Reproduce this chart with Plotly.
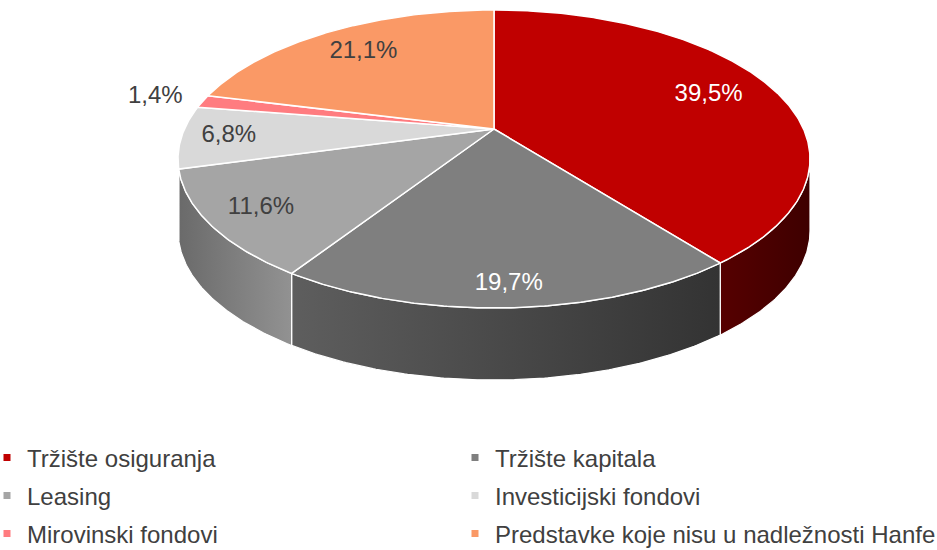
import numpy as np
import plotly.graph_objects as go

# ---- data ----
categories = [
    "Tržište osiguranja",
    "Tržište kapitala",
    "Leasing",
    "Investicijski fondovi",
    "Mirovinski fondovi",
    "Predstavke koje nisu u nadležnosti Hanfe",
]
shares = [39.5, 19.7, 11.6, 6.8, 1.4, 21.1]

# ---- styling ----
top_colors = ["#C00000", "#7F7F7F", "#A5A5A5", "#D9D9D9", "#FF7C80", "#FA9966"]
side_colors = [
    ("#560000", "#3e0000"),
    ("#5e5e5e", "#333333"),
    ("#6a6a6a", "#929292"),
    ("#b4b4b4", "#bcbcbc"),
    ("#d86468", "#d86468"),
    ("#d77a48", "#d77a48"),
]
label_colors = ["white", "white", "#404040", "#404040", "#404040", "#404040"]
label_radius = [0.77, 0.89, 0.84, 0.85, 1.17, 0.77]
FONT = "Liberation Sans, Arial, sans-serif"

# ---- canvas ----
W, H = 937, 550
LEGEND_BAND = 140   # bottom strip reserved for the legend
PLOT_H = H - LEGEND_BAND

# ---- pie geometry (screen units) ----
CX = 494.0          # horizontal centre
APEX_Y = 129.0      # where the slices meet
FAR_Y = 10.0        # back rim of the top face
NEAR_Y = 308.0      # front rim of the top face
HALF_W = 316.0      # half width of the top face
DEPTH = 72.0        # thickness of the disc

# perspective of a unit circle: y = (A v + c) / (1 + K v), x = CX + G u / (1 + K v)
K = (2 * APEX_Y - FAR_Y - NEAR_Y) / (FAR_Y - NEAR_Y)
A = FAR_Y * (1 + K) - APEX_Y
G = HALF_W * np.sqrt(1 - K ** 2)


def project(u, v, dz=0.0):
    w = 1 + K * v
    return CX + G * u / w, (A * v + APEX_Y) / w + dz


def arc(a0, a1, r=1.0, dz=0.0, n=None):
    if n is None:
        n = max(int(abs(a1 - a0) / 0.5) + 2, 3)
    t = np.radians(np.linspace(a0, a1, n))
    return project(r * np.cos(t), r * np.sin(t), dz)


# slice angles, clockwise from 12 o'clock
total = sum(shares)
starts, ends = [], []
ang = 90.0
for s in shares:
    starts.append(ang)
    ang -= 360.0 * s / total
    ends.append(ang)

# visible front band of the side wall
sil = np.degrees(np.arcsin(K))
front_hi, front_lo = -sil, -180.0 + sil

fig = go.Figure()

# side walls
for i, (a0, a1) in enumerate(zip(starts, ends)):
    hi, lo = min(a0, front_hi), max(a1, front_lo)
    if hi <= lo:
        continue
    xt, yt = arc(hi, lo)
    xb, yb = arc(lo, hi, dz=DEPTH)
    xs = np.concatenate([xt, xb, xt[:1]])
    ys = np.concatenate([yt, yb, yt[:1]])
    c0, c1 = side_colors[i]
    fig.add_trace(go.Scatter(
        x=xs, y=ys, mode="lines", fill="toself",
        fillgradient=dict(type="horizontal", colorscale=[[0, c0], [1, c1]]),
        line=dict(color="white", width=1.2),
        hoverinfo="skip", showlegend=False,
    ))

# top faces
for i, (a0, a1) in enumerate(zip(starts, ends)):
    xa, ya = arc(a0, a1)
    xs = np.concatenate([[CX], xa, [CX]])
    ys = np.concatenate([[APEX_Y], ya, [APEX_Y]])
    fig.add_trace(go.Scatter(
        x=xs, y=ys, mode="lines", fill="toself", fillcolor=top_colors[i],
        line=dict(color="white", width=1.5),
        name=categories[i], hoverinfo="name", showlegend=False,
    ))

# percentage labels
lx, ly, ltxt = [], [], []
for i, (a0, a1) in enumerate(zip(starts, ends)):
    m = np.radians((a0 + a1) / 2)
    r = label_radius[i]
    px, py = project(r * np.cos(m), r * np.sin(m))
    lx.append(px)
    ly.append(py)
    ltxt.append(f"{shares[i]:.1f}".replace(".", ",") + "%")
fig.add_trace(go.Scatter(
    x=lx, y=ly, mode="text", text=ltxt,
    textfont=dict(family=FONT, size=24, color=label_colors),
    hoverinfo="skip", showlegend=False,
))

# legend: one entry per legend box, laid out in two columns and three rows
col_x = [-13, 455]
row_y = [458, 496, 534]
layout_legends = {}
for i, name in enumerate(categories):
    key = "legend" if i == 0 else f"legend{i + 1}"
    fig.add_trace(go.Scatter(
        x=[None], y=[None], mode="markers", name=name,
        marker=dict(symbol="square", size=7, color=top_colors[i]),
        legend=key, showlegend=True,
    ))
    layout_legends[key] = dict(
        orientation="h", xanchor="left", yanchor="middle",
        x=col_x[i % 2] / W, y=(PLOT_H - row_y[i // 2]) / PLOT_H,
        font=dict(family=FONT, size=24, color="#404040"),
        bgcolor="rgba(0,0,0,0)", borderwidth=0,
    )

fig.update_layout(
    width=W, height=H,
    margin=dict(l=0, r=0, t=0, b=LEGEND_BAND, autoexpand=False),
    paper_bgcolor="white", plot_bgcolor="white",
    xaxis=dict(range=[0, W], visible=False, fixedrange=True),
    yaxis=dict(range=[PLOT_H, 0], visible=False, fixedrange=True),
    **layout_legends,
)

fig.write_html("out.html")
